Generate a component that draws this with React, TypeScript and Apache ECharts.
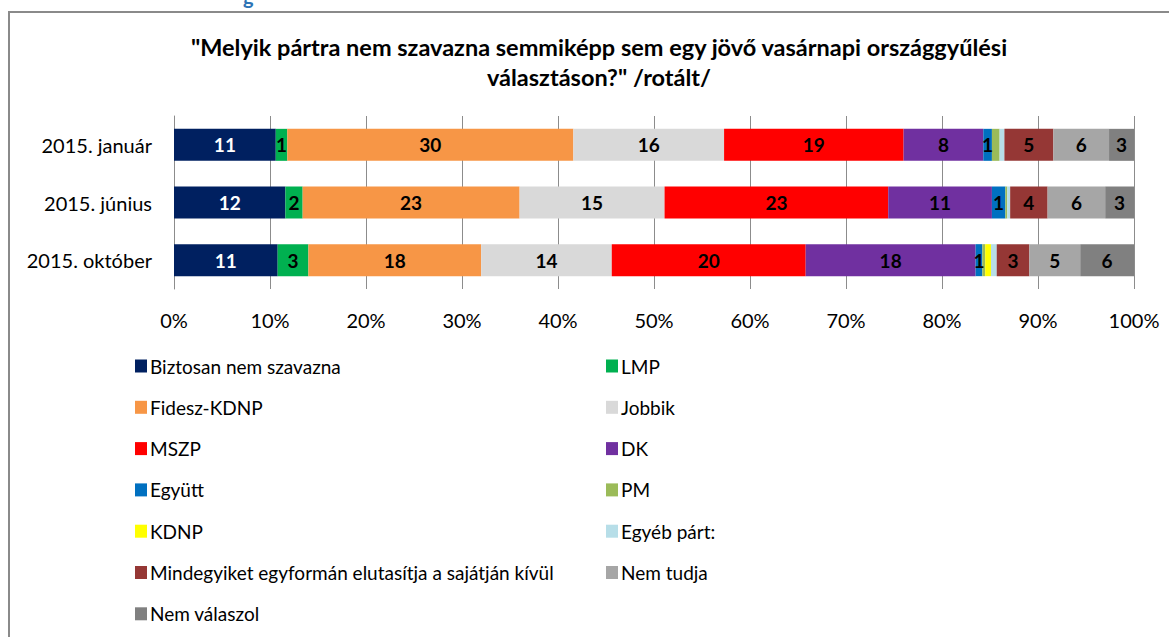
import React, { useEffect, useRef } from "react";
import * as echarts from "echarts";

const categories = ["2015. január", "2015. június", "2015. október"];
const seriesNames = [
  "Biztosan nem szavazna",
  "LMP",
  "Fidesz-KDNP",
  "Jobbik",
  "MSZP",
  "DK",
  "Együtt",
  "PM",
  "KDNP",
  "Egyéb párt:",
  "Mindegyiket egyformán elutasítja a sajátján kívül",
  "Nem tudja",
  "Nem válaszol",
];
const colors = [
  "#002060", "#00B050", "#F79646", "#D9D9D9", "#FF0000", "#7030A0", "#0070C0",
  "#9BBB59", "#FFFF00", "#B7DEE8", "#953735", "#A6A6A6", "#808080",
];
const biztosan = [10.6, 11.6, 10.8];
const lmp = [1.2, 1.8, 3.2];
const fidesz = [29.8, 22.6, 18.0];
const jobbik = [15.7, 15.1, 13.6];
const mszp = [18.7, 23.3, 20.2];
const dk = [8.3, 10.8, 17.7];
const egyutt = [0.9, 1.4, 0.7];
const pm = [0.8, 0.2, 0.3];
const kdnp = [0, 0, 0.6];
const egyeb = [0.5, 0.3, 0.6];
const mindegyiket = [5.1, 3.9, 3.4];
const nemTudja = [5.8, 6.0, 5.3];
const nemValaszol = [2.6, 3.0, 5.6];
const seriesValues = [
  biztosan, lmp, fidesz, jobbik, mszp, dk, egyutt, pm, kdnp, egyeb, mindegyiket, nemTudja, nemValaszol,
];
const unlabeled = ["PM", "KDNP", "Egyéb párt:"];
const legendCol1 = [
  "Biztosan nem szavazna", "Fidesz-KDNP", "MSZP", "Együtt", "KDNP",
  "Mindegyiket egyformán elutasítja a sajátján kívül", "Nem válaszol",
];
const legendCol2 = ["LMP", "Jobbik", "DK", "PM", "Egyéb párt:", "Nem tudja"];
const titleText =
  '"Melyik pártra nem szavazna semmiképp sem egy jövő vasárnapi országgyűlési\nválasztáson?" /rotált/';

const FONT = "Lato, 'Liberation Sans', sans-serif";

export default function App() {
  const ref = useRef<HTMLDivElement>(null);
  useEffect(() => {
    if (!ref.current) return;
    const chart = echarts.init(ref.current, undefined, { renderer: "svg" });
    const legendBase = {
      orient: "vertical",
      top: 351,
      itemWidth: 12,
      itemHeight: 13,
      itemGap: 21.3,
      icon: "rect",
      selectedMode: false,
      textStyle: { fontFamily: FONT, fontSize: 19, color: "#000", lineHeight: 20, padding: [0, 0, 0, -2] },
    };
    chart.setOption({
      animation: false,
      backgroundColor: "#fff",
      color: colors,
      textStyle: { fontFamily: FONT },
      title: {
        text: titleText,
        left: 594,
        top: 27,
        textAlign: "center",
        textStyle: { fontFamily: FONT, fontSize: 23.5, fontWeight: "bold", color: "#000", lineHeight: 30 },
      },
      legend: [
        { ...legendBase, left: 130, data: legendCol1 },
        { ...legendBase, left: 601, data: legendCol2 },
      ],
      grid: { left: 174, right: 35, top: 116, height: 173, containLabel: false },
      xAxis: {
        type: "value",
        min: 0,
        max: 100,
        interval: 10,
        axisLine: { show: false },
        axisTick: { show: false },
        splitLine: { show: true, lineStyle: { color: "#8C8C8C", width: 1 } },
        axisLabel: { formatter: "{value}%", fontFamily: FONT, fontSize: 20, color: "#000", margin: 21 },
      },
      yAxis: {
        type: "category",
        data: categories,
        inverse: true,
        axisLine: { show: true, lineStyle: { color: "#8C8C8C", width: 1 } },
        axisTick: { show: false },
        axisLabel: { fontFamily: FONT, fontSize: 20, color: "#000", margin: 22 },
      },
      graphic: [
        {
          type: "rect",
          shape: { x: 9, y: 12, width: 1300, height: 800 },
          style: { fill: "none", stroke: "#8A8A8A", lineWidth: 2 },
          silent: true,
        },
        {
          type: "text",
          x: 243,
          y: -14,
          style: { text: "g", fill: "#2E74B5", font: "bold 20px Lato, sans-serif" },
          silent: true,
        },
      ],
      series: seriesNames.map((name, i) => ({
        name,
        type: "bar",
        stack: "total",
        barWidth: 32,
        data: seriesValues[i],
        itemStyle: { color: colors[i] },
        label: {
          show: !unlabeled.includes(name),
          position: "inside",
          fontFamily: FONT,
          fontSize: 19,
          fontWeight: "bold",
          color: i === 0 ? "#fff" : "#000",
          formatter: (p: any) => (p.value > 0 ? String(Math.round(p.value)) : ""),
        },
      })),
    });
    return () => chart.dispose();
  }, []);
  return (
    <div
      ref={ref}
      style={{ position: "absolute", left: 0, top: 0, width: 1169, height: 637 }}
    />
  );
}
